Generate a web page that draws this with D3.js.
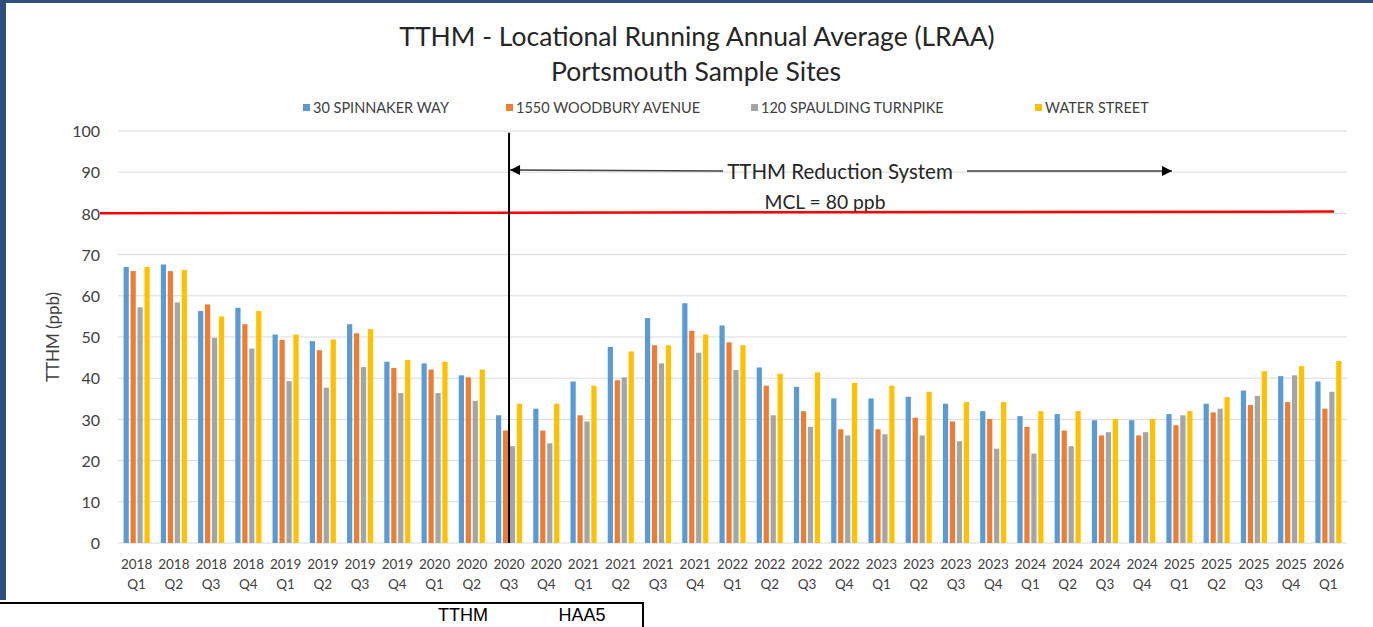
<!DOCTYPE html>
<html>
<head>
<meta charset="utf-8">
<script src="https://cdn.jsdelivr.net/npm/d3@7/dist/d3.min.js"></script>
<style>
  html, body { margin: 0; padding: 0; background: #fff; }
  svg { display: block; }
</style>
</head>
<body>
<svg id="chart" width="1373" height="627"></svg>
<script>
const categories = [
  ["2018","Q1"],["2018","Q2"],["2018","Q3"],["2018","Q4"],
  ["2019","Q1"],["2019","Q2"],["2019","Q3"],["2019","Q4"],
  ["2020","Q1"],["2020","Q2"],["2020","Q3"],["2020","Q4"],
  ["2021","Q1"],["2021","Q2"],["2021","Q3"],["2021","Q4"],
  ["2022","Q1"],["2022","Q2"],["2022","Q3"],["2022","Q4"],
  ["2023","Q1"],["2023","Q2"],["2023","Q3"],["2023","Q4"],
  ["2024","Q1"],["2024","Q2"],["2024","Q3"],["2024","Q4"],
  ["2025","Q1"],["2025","Q2"],["2025","Q3"],["2025","Q4"],
  ["2026","Q1"]
];
const seriesNames = ["30 SPINNAKER WAY", "1550 WOODBURY AVENUE", "120 SPAULDING TURNPIKE", "WATER STREET"];
const spinnaker = [67.0,67.6,56.3,57.1,50.6,49.0,53.1,44.0,43.6,40.7,31.0,32.6,39.2,47.6,54.6,58.2,52.8,42.6,37.9,35.1,35.1,35.5,33.8,32.0,30.8,31.3,29.8,29.8,31.3,33.8,37.0,40.5,39.2];
const woodbury  = [66.0,66.0,57.9,53.1,49.3,46.8,50.9,42.5,42.1,40.2,27.3,27.3,31.0,39.5,48.0,51.5,48.7,38.2,32.0,27.6,27.6,30.4,29.5,30.1,28.2,27.3,26.1,26.1,28.6,31.7,33.5,34.2,32.6];
const spaulding = [57.2,58.4,49.8,47.2,39.3,37.7,42.7,36.4,36.4,34.5,23.5,24.2,29.5,40.2,43.6,46.2,42.0,31.0,28.2,26.1,26.4,26.1,24.7,22.9,21.7,23.5,26.9,26.9,31.0,32.6,35.7,40.7,36.7];
const waterSt   = [67.0,66.3,55.0,56.3,50.6,49.4,51.9,44.4,44.0,42.1,33.8,33.8,38.2,46.5,48.0,50.6,48.0,41.1,41.4,38.9,38.2,36.7,34.2,34.2,32.0,32.0,30.1,30.1,32.0,35.4,41.7,42.9,44.2];
const seriesValues = [spinnaker, woodbury, spaulding, waterSt];
const seriesColors = ["#5B9BD5", "#ED7D31", "#A5A5A5", "#FFC000"];
const yTicks = [0,10,20,30,40,50,60,70,80,90,100];
const mclValue = 80;
const titleLines = ["TTHM - Locational Running Annual Average (LRAA)", "Portsmouth Sample Sites"];
const yAxisTitle = "TTHM (ppb)";
const annotationText = "TTHM Reduction System";
const mclText = "MCL = 80 ppb";
const systemStartIndex = 10; // 2020 Q3
const tableHeaders = ["TTHM", "HAA5"];

const font = "Lato, 'Open Sans', sans-serif";
const svg = d3.select("#chart");

// slide border
svg.append("rect").attr("x",0).attr("y",0).attr("width",1373).attr("height",3).attr("fill","#2F4F7F");
svg.append("rect").attr("x",0).attr("y",0).attr("width",6).attr("height",600).attr("fill","#2F4F7F");

const plotL = 118, plotR = 1347, plotT = 131, plotB = 543;
const catKeys = categories.map(d => d.join(" "));
const x = d3.scaleBand().domain(catKeys).range([plotL, plotR]).paddingInner(0.3).paddingOuter(0.15);
const xs = d3.scaleBand().domain(d3.range(seriesNames.length)).range([0, x.bandwidth()]).paddingInner(0.25).paddingOuter(0);
const y = d3.scaleLinear().domain([0, 100]).range([plotB, plotT]);

// gridlines
svg.append("g").selectAll("line").data(yTicks).join("line")
  .attr("x1", plotL).attr("x2", plotR)
  .attr("y1", d => y(d)).attr("y2", d => y(d))
  .attr("stroke", "#D9D9D9").attr("stroke-width", 1);

// y axis labels
const yAxis = d3.axisLeft(y).tickValues(yTicks).tickSize(0).tickPadding(0);
const yg = svg.append("g").attr("transform", `translate(${plotL - 18},0)`).call(yAxis);
yg.select(".domain").remove();
yg.selectAll("text").attr("font-family", font).attr("font-size", 16).attr("fill", "#404040").attr("dy", "0.35em");

// bars
const groups = svg.append("g").selectAll("g").data(categories).join("g")
  .attr("transform", (d,i) => `translate(${x(catKeys[i])},0)`);
groups.selectAll("rect").data((d,i) => seriesValues.map((s,k) => ({k, v: s[i]}))).join("rect")
  .attr("x", d => xs(d.k)).attr("width", xs.bandwidth())
  .attr("y", d => y(d.v)).attr("height", d => y(0) - y(d.v))
  .attr("fill", d => seriesColors[d.k]);

// x axis labels
const xl = svg.append("g");
categories.forEach((c, i) => {
  const cx = x(catKeys[i]) + x.bandwidth()/2;
  const t = xl.append("text").attr("x", cx).attr("text-anchor","middle")
    .attr("font-family", font).attr("font-size", 13.5).attr("fill", "#404040");
  t.append("tspan").attr("x", cx).attr("y", 569).text(c[0]);
  t.append("tspan").attr("x", cx).attr("y", 589).text(c[1]);
});

// y axis title
svg.append("text").attr("transform", `translate(59,${(plotT+plotB)/2}) rotate(-90)`)
  .attr("text-anchor","middle").attr("font-family", font).attr("font-size", 17).attr("fill","#404040")
  .text(yAxisTitle);

// title
svg.append("text").attr("x", 697).attr("y", 46).attr("text-anchor","middle")
  .attr("font-family", font).attr("font-size", 26.5).attr("fill","#262626").text(titleLines[0]);
svg.append("text").attr("x", 696).attr("y", 81).attr("text-anchor","middle")
  .attr("font-family", font).attr("font-size", 26.5).attr("fill","#262626").text(titleLines[1]);

// legend
const legendX = [303, 506, 751, 1035];
const lg = svg.append("g");
seriesNames.forEach((n, k) => {
  lg.append("rect").attr("x", legendX[k]).attr("y", 104).attr("width", 7).attr("height", 7).attr("fill", seriesColors[k]);
  lg.append("text").attr("x", legendX[k] + 10).attr("y", 113).attr("font-family", font)
    .attr("font-size", 14.5).attr("fill", "#404040").text(n);
});

// MCL red line
svg.append("line").attr("x1", plotL - 18).attr("x2", plotR - 13)
  .attr("y1", y(mclValue + 0.05)).attr("y2", y(mclValue + 0.45))
  .attr("stroke", "#FF0000").attr("stroke-width", 2.5);

// system start vertical line
const vx = x(catKeys[systemStartIndex]) + x.bandwidth()/2;
svg.append("line").attr("x1", vx).attr("x2", vx).attr("y1", y(99.6)).attr("y2", y(0))
  .attr("stroke", "#000").attr("stroke-width", 2);

// arrows
const defs = svg.append("defs");
defs.append("marker").attr("id","arrowhead").attr("viewBox","0 0 10 10").attr("refX",10).attr("refY",5)
  .attr("markerWidth",12).attr("markerHeight",10).attr("markerUnits","userSpaceOnUse").attr("orient","auto")
  .append("path").attr("d","M0,0 L10,5 L0,10 Z").attr("fill","#000");
const ay = y(90.3);
svg.append("line").attr("x1", 723).attr("x2", vx + 1).attr("y1", ay).attr("y2", ay - 1)
  .attr("stroke","#404040").attr("stroke-width",1.5).attr("marker-end","url(#arrowhead)");
svg.append("line").attr("x1", 967).attr("x2", 1172).attr("y1", ay).attr("y2", ay)
  .attr("stroke","#404040").attr("stroke-width",1.5).attr("marker-end","url(#arrowhead)");
svg.append("text").attr("x", 840).attr("y", 179).attr("text-anchor","middle")
  .attr("font-family", font).attr("font-size", 20.5).attr("fill","#262626").text(annotationText);
svg.append("text").attr("x", 825).attr("y", 209).attr("text-anchor","middle")
  .attr("font-family", font).attr("font-size", 19.3).attr("fill","#262626").text(mclText);

// bottom table fragment
svg.append("path").attr("d", "M0,603 L643,603 L643,627").attr("fill","none").attr("stroke","#000").attr("stroke-width",2);
svg.append("text").attr("x", 463).attr("y", 621).attr("text-anchor","middle").attr("font-family","'Liberation Sans', Arial, sans-serif")
  .attr("font-size", 18).attr("fill","#000").text(tableHeaders[0]);
svg.append("text").attr("x", 582).attr("y", 621).attr("text-anchor","middle").attr("font-family","'Liberation Sans', Arial, sans-serif")
  .attr("font-size", 18).attr("fill","#000").text(tableHeaders[1]);
</script>
</body>
</html>
